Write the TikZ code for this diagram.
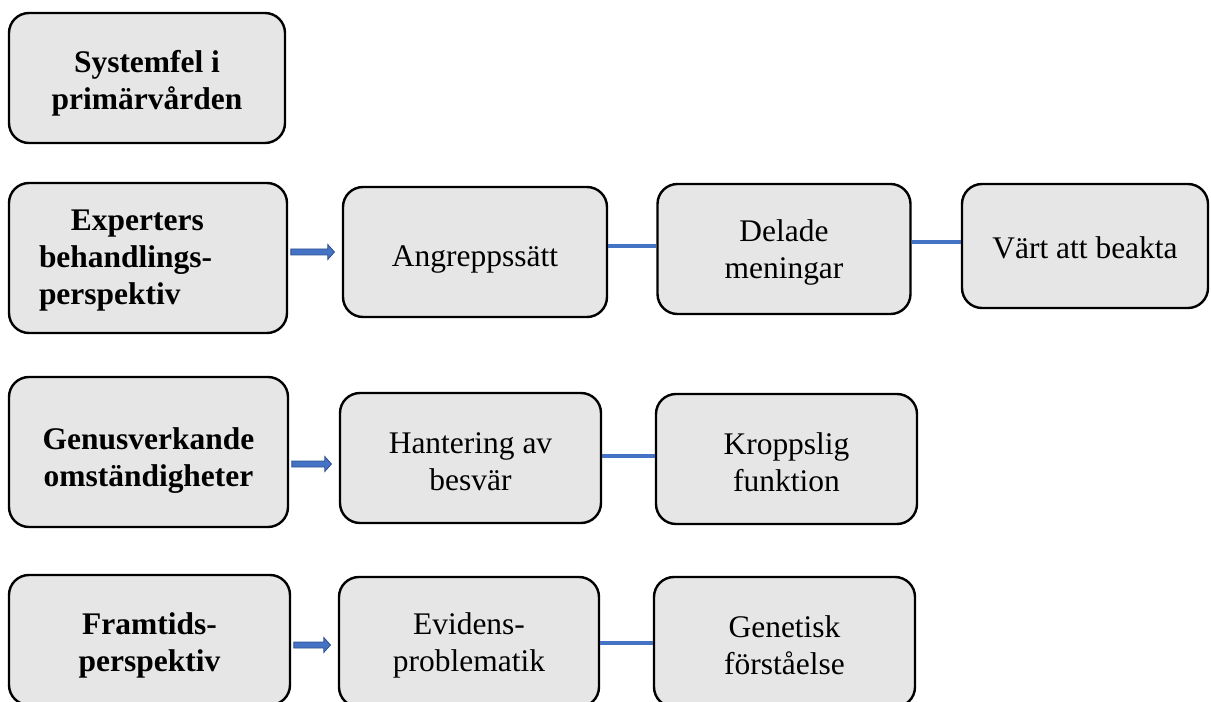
\documentclass[tikz,border=0pt]{standalone}
\usepackage{fontspec}
\setmainfont{Liberation Serif}
\usetikzlibrary{calc}
\definecolor{boxfill}{HTML}{E7E6E6}
\definecolor{linkblue}{HTML}{4472C4}
\definecolor{arrowedge}{HTML}{2F528F}
\newcommand{\dnstrut}[1]{\rule{0pt}{#1}}
\tikzset{
  box/.style={draw=black, line width=1.8pt, fill=boxfill, rounded corners=15pt,
    align=center, inner sep=2pt, font=\fontsize{23.6}{27.75}\selectfont},
  bbox/.style={box, font=\fontsize{23.6}{27.75}\selectfont\bfseries},
  link/.style={draw=linkblue, line width=2.8pt},
  blockarrow/.style={draw=arrowedge, fill=linkblue, line width=0.6pt,
    to path={let \p1=(\tikztostart), \p2=(\tikztotarget) in
      (\x1+2pt,\y1+2.25pt) -- (\x2-10.5pt,\y1+2.25pt) -- (\x2-10.5pt,\y1+5.6pt)
      -- (\x2-5.5pt,\y1) -- (\x2-10.5pt,\y1-5.6pt) -- (\x2-10.5pt,\y1-2.25pt)
      -- (\x1+2pt,\y1-2.25pt) -- cycle}}
}
\begin{document}
\begin{tikzpicture}[x=0.75pt, y=-0.75pt]
\useasboundingbox (0,0) rectangle (1211,702);
% row 0
\node[bbox, minimum width=276*0.75pt, minimum height=130*0.75pt] (sys) at (147,78) {\dnstrut{25pt}Systemfel i\\primärvården};
% row 1
\node[bbox, minimum width=278*0.75pt, minimum height=150*0.75pt, text width=163.5pt, align=left] (exp) at (148,258)
  {\dnstrut{19pt}\hspace*{24pt}Experters\\behandlings-\\perspektiv};
\node[box, minimum width=264*0.75pt, minimum height=130*0.75pt] (ang) at (475,252) {\dnstrut{26.5pt}Angreppssätt};
\node[box, minimum width=253*0.75pt, minimum height=130*0.75pt] (del) at (784,249) {\dnstrut{22pt}Delade\\meningar};
\node[box, minimum width=246*0.75pt, minimum height=124*0.75pt] (vrt) at (1085,246) {\dnstrut{19.5pt}Värt att beakta};
% row 2
\node[bbox, minimum width=279*0.75pt, minimum height=150*0.75pt] (gen) at (148.5,452) {\dnstrut{29.5pt}Genusverkande\\omständigheter};
\node[box, minimum width=261*0.75pt, minimum height=130*0.75pt] (han) at (470.5,458) {\dnstrut{21pt}Hantering av\\besvär};
\node[box, minimum width=261*0.75pt, minimum height=130*0.75pt] (kro) at (786.5,459) {\dnstrut{21pt}Kroppslig\\funktion};
% row 3
\node[bbox, minimum width=281*0.75pt, minimum height=130*0.75pt] (fra) at (149.5,640) {\dnstrut{24pt}Framtids-\\perspektiv};
\node[box, minimum width=260*0.75pt, minimum height=130*0.75pt] (evi) at (469,642) {\dnstrut{22pt}Evidens-\\problematik};
\node[box, minimum width=261*0.75pt, minimum height=130*0.75pt] (gnt) at (784.5,642) {\dnstrut{20.5pt}Genetisk\\förståelse};
% block arrows
\draw[blockarrow] ([yshift=4.5pt]exp.east) to ([yshift=4.5pt]ang.west);
\draw[blockarrow] ([yshift=-9pt]gen.east) to ([yshift=-9pt]han.west);
\draw[blockarrow] ([yshift=-3.75pt]fra.east) to ([yshift=-3.75pt]evi.west);
% links
\draw[link] ([yshift=4.5pt]ang.east) -- ([yshift=4.5pt]ang.east -| del.west);
\draw[link] ([yshift=5.25pt]del.east) -- ([yshift=5.25pt]del.east -| vrt.west);
\draw[link] ([yshift=1.5pt]han.east) -- ([yshift=1.5pt]han.east -| kro.west);
\draw[link] ([yshift=-0.75pt]evi.east) -- ([yshift=-0.75pt]evi.east -| gnt.west);
\end{tikzpicture}
\end{document}
